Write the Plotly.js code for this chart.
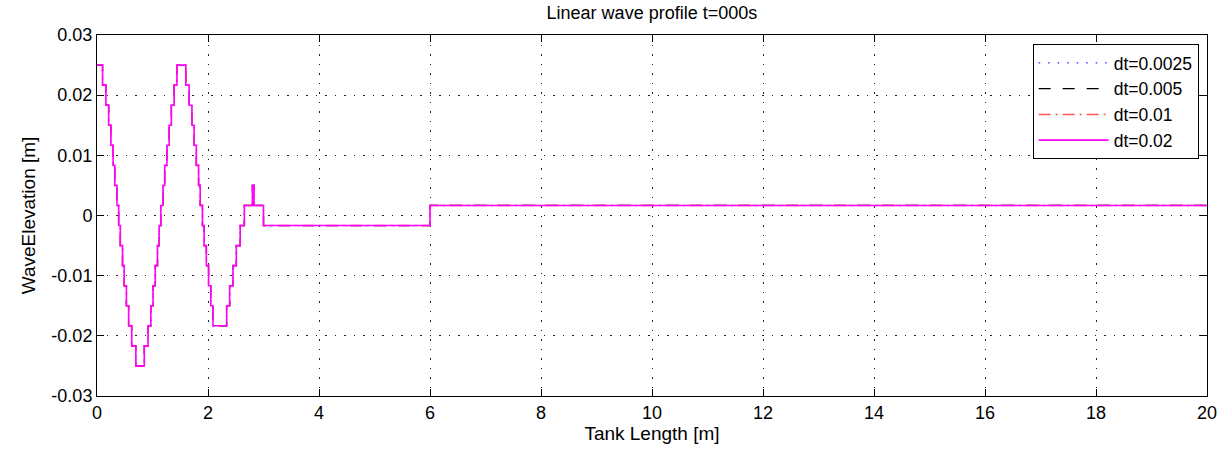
<!DOCTYPE html>
<html>
<head>
<meta charset="utf-8">
<script src="https://cdn.plot.ly/plotly-3.0.1.min.js"></script>
<style>html,body{margin:0;padding:0;background:#fff;}#chart{width:1230px;height:452px;}</style>
</head>
<body>
<div id="chart"></div>
<script>
// Stair-step wave profile (tank position in m, elevation in m)
var tankX = [0, 0.10, 0.16, 0.21, 0.25, 0.29, 0.32, 0.36, 0.39, 0.42, 0.46, 0.49, 0.53, 0.57, 0.625, 0.70,
  0.852, 0.92, 0.97, 1.01, 1.05, 1.09, 1.12, 1.15, 1.19, 1.22, 1.26, 1.30, 1.34, 1.39, 1.44,
  1.60, 1.66, 1.71, 1.75, 1.79, 1.83, 1.86, 1.90, 1.93, 1.97, 2.01, 2.05, 2.09,
  2.336, 2.39, 2.45, 2.51, 2.58, 2.655, 2.80, 2.83, 3.00, 6.00, 20.0];
var elevation = [0.025, 0.02167, 0.01833, 0.015, 0.01167, 0.00833, 0.005, 0.00167, -0.00167, -0.005, -0.00833, -0.01167, -0.015, -0.01833, -0.02167, -0.025,
  -0.02167, -0.01833, -0.015, -0.01167, -0.00833, -0.005, -0.00167, 0.00167, 0.005, 0.00833, 0.01167, 0.015, 0.01833, 0.02167, 0.025,
  0.02167, 0.01833, 0.015, 0.01167, 0.00833, 0.005, 0.00167, -0.00167, -0.005, -0.00833, -0.01167, -0.015, -0.01833,
  -0.015, -0.01167, -0.00833, -0.005, -0.00167, 0.00167, 0.005, 0.00167, -0.00167, 0.00167, 0.00167];
var seriesNames = ['dt=0.0025', 'dt=0.005', 'dt=0.01', 'dt=0.02'];
var xTickVals = [0, 2, 4, 6, 8, 10, 12, 14, 16, 18, 20];
var yTickVals = [-0.03, -0.02, -0.01, 0, 0.01, 0.02, 0.03];
var yTickText = ['-0.03', '-0.02', '-0.01', '0', '0.01', '0.02', '0.03'];

var styles = [
  {color: '#2222ff', dash: '1.5px,8px', width: 1.2},
  {color: '#000000', dash: '12px,12px', width: 1.2},
  {color: '#ff5555', dash: '12px,5px,2px,5px', width: 1.5},
  {color: '#ff00ff', dash: 'solid', width: 1.6}
];
var traces = seriesNames.map(function(n, i) {
  return {
    x: tankX, y: elevation, name: n, type: 'scatter', mode: 'lines',
    line: {shape: 'hv', color: styles[i].color, dash: styles[i].dash, width: styles[i].width}
  };
});

var fam = 'Liberation Sans, Arial, sans-serif';
var tickFnt = {family: fam, size: 18, color: '#000'};
var labelFnt = {family: fam, size: 19, color: '#000'};
var titleFnt = {family: fam, size: 18, color: '#000'};
var legendFnt = {family: fam, size: 17.5, color: '#000'};
var axisCommon = {
  showline: true, linecolor: '#000', linewidth: 1, mirror: 'ticks',
  ticks: 'inside', ticklen: 7, tickcolor: '#000', tickwidth: 1,
  showgrid: true, gridcolor: '#222', gridwidth: 1, griddash: '1.5px,8px',
  zeroline: false, tickfont: tickFnt
};
var layout = {
  width: 1230, height: 452,
  margin: {l: 97, r: 23, t: 35, b: 56},
  paper_bgcolor: '#fff', plot_bgcolor: '#fff',
  font: tickFnt,
  title: {text: 'Linear wave profile t=000s', font: titleFnt, x: 0.53, xanchor: 'center', y: 0.985, yanchor: 'top'},
  xaxis: Object.assign({}, axisCommon, {
    range: [0, 20], tickvals: xTickVals, ticktext: xTickVals.map(String),
    title: {text: 'Tank Length [m]', font: labelFnt, standoff: 3}
  }),
  yaxis: Object.assign({}, axisCommon, {
    range: [-0.03, 0.03], tickvals: yTickVals, ticktext: yTickText,
    title: {text: 'WaveElevation [m]', font: labelFnt, standoff: 10}
  }),
  showlegend: true,
  legend: {
    x: 0.9925, xanchor: 'right', y: 0.975, yanchor: 'top',
    bgcolor: '#fff', bordercolor: '#000', borderwidth: 1,
    font: legendFnt, tracegroupgap: 0, itemwidth: 70
  }
};
Plotly.newPlot('chart', traces, layout, {displayModeBar: false, staticPlot: true});
</script>
</body>
</html>
